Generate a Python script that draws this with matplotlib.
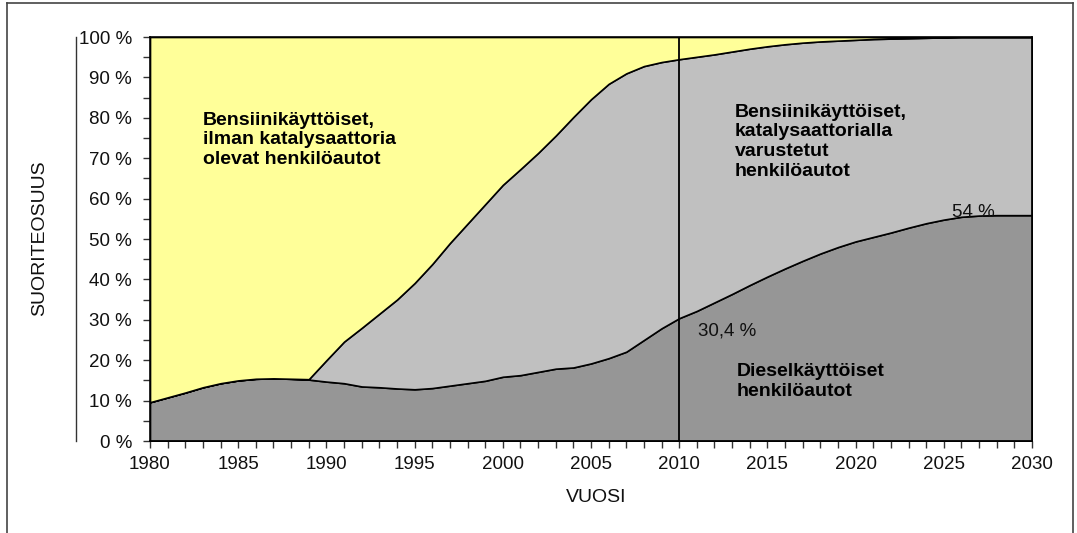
import numpy as np
import matplotlib
matplotlib.use("Agg")
import matplotlib.pyplot as plt
from matplotlib.lines import Line2D
from matplotlib.ticker import MultipleLocator, FixedLocator

plt.rcParams['font.family'] = ['Liberation Sans', 'DejaVu Sans']

years = list(range(1980, 2031))
diesel = [9.6, 10.8, 12.0, 13.3, 14.3, 15.0, 15.4, 15.5, 15.4, 15.2,
          14.7, 14.3, 13.5, 13.3, 13.0, 12.8, 13.1, 13.7, 14.3, 14.9,
          15.9, 16.3, 17.1, 17.9, 18.2, 19.2, 20.5, 22.1, 25.0, 27.9,
          30.4, 32.2, 34.3, 36.4, 38.6, 40.7, 42.7, 44.6, 46.4, 48.0,
          49.4, 50.5, 51.6, 52.8, 53.9, 54.8, 55.5, 55.8, 55.9, 55.9, 55.9]
catalyst = [0, 0, 0, 0, 0, 0, 0, 0, 0, 0.1,
            5.3, 10.3, 14.5, 18.2, 22.0, 26.3, 30.7, 35.3, 39.5, 43.7,
            47.5, 51.0, 54.2, 57.7, 62.0, 65.4, 67.9, 68.9, 67.8, 65.9,
            64.1, 62.9, 61.4, 60.0, 58.5, 57.0, 55.5, 54.0, 52.5, 51.1,
            49.9, 49.0, 48.0, 46.9, 45.9, 45.1, 44.5, 44.2, 44.1, 44.1, 44.1]
no_catalyst = [100 - d - c for d, c in zip(diesel, catalyst)]

y_ticks = list(range(0, 101, 10))
y_tick_labels = [f"{v} %" for v in y_ticks]
x_ticks = list(range(1980, 2031, 5))

colors = ['#969696', '#C0C0C0', '#FFFF99']

fig = plt.figure(figsize=(10.77, 5.33), dpi=100)
ax = fig.add_axes([150/1077, 1 - 441/533, 882/1077, 404/533])

ax.stackplot(years, diesel, catalyst, no_catalyst, colors=colors,
             edgecolor='black', linewidth=1.2)
ax.axvline(2010, color='black', lw=1.3)

ax.set_xlim(1980, 2030)
ax.set_ylim(0, 100)
ax.set_yticks(y_ticks)
ax.set_yticklabels(y_tick_labels)
ax.yaxis.set_minor_locator(MultipleLocator(5))
ax.set_xticks(x_ticks)
ax.xaxis.set_minor_locator(MultipleLocator(1))
ax.tick_params(axis='both', which='both', direction='out', length=5,
               width=1, color='#333333', labelsize=13.5, labelcolor='#111111')
ax.tick_params(axis='y', pad=8)
ax.tick_params(axis='x', pad=6)
for s in ax.spines.values():
    s.set_color('black')
    s.set_linewidth(1.2)

# detached y-axis line
ax.add_line(Line2D([-74/882, -74/882], [0, 1.0], transform=ax.transAxes,
                   color='#333333', lw=1, clip_on=False))

# outer frame
fx0, fx1, fy1 = 7.3/1077, 1073/1077, 1 - 3/533
fig.add_artist(Line2D([fx0, fx0], [0, fy1], color='#444444', lw=1.2))
fig.add_artist(Line2D([fx0, fx1], [fy1, fy1], color='#444444', lw=1.2))
fig.add_artist(Line2D([fx1, fx1], [fy1, 0], color='#444444', lw=1.2))

fig.text(40/1077, 1 - 238/533, 'SUORITEOSUUS', rotation=90, ha='center',
         va='center', fontsize=14, color='#111111')
fig.text(596/1077, 1 - 498/533, 'VUOSI', ha='center', va='center',
         fontsize=14, color='#111111')

ax.text(1983.0, 74.6, 'Bensiinikäyttöiset,\nilman katalysaattoria\nolevat henkilöautot',
        fontsize=14, fontweight='bold', ha='left', va='center', linespacing=1.2)
ax.text(2013.16, 74.1, 'Bensiinikäyttöiset,\nkatalysaattorialla\nvarustetut\nhenkilöautot',
        fontsize=14, fontweight='bold', ha='left', va='center', linespacing=1.2)
ax.text(2013.28, 14.7, 'Dieselkäyttöiset\nhenkilöautot',
        fontsize=14, fontweight='bold', ha='left', va='center', linespacing=1.2)
ax.text(2011.07, 27.2, '30,4 %', fontsize=13.5, ha='left', va='center', color='#111111')
ax.text(2026.66, 56.6, '54 %', fontsize=13.5, ha='center', va='center', color='#111111')

fig.savefig('out.png', dpi=100)
